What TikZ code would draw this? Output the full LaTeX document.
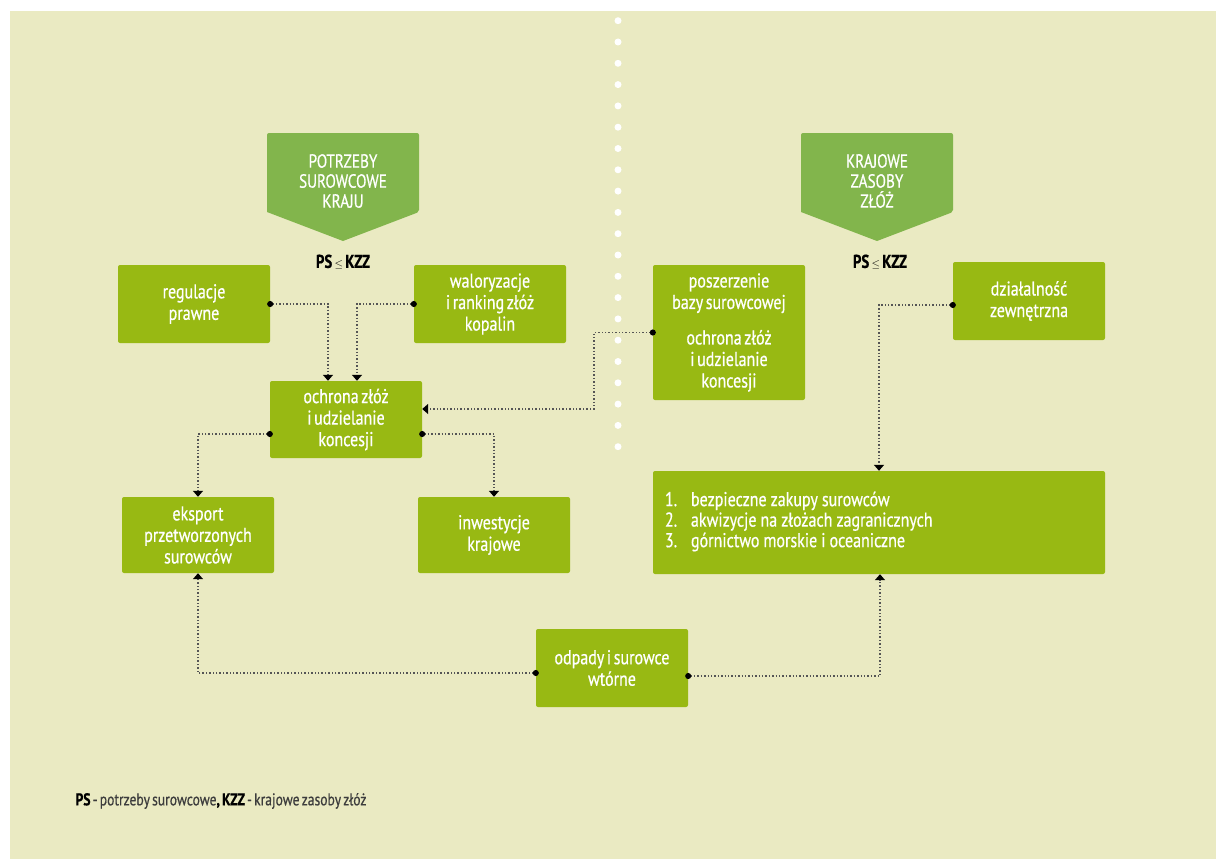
\documentclass[tikz,border=0pt]{standalone}
\usepackage{fontspec}
\setmainfont{PT Sans}[FakeStretch=0.8, FakeBold=0.6, WordSpace=0.6]
\definecolor{paperbg}{RGB}{234,234,194}
\definecolor{boxgreen}{RGB}{152,185,19}
\definecolor{headgreen}{RGB}{130,181,76}
\definecolor{linkgray}{RGB}{85,85,85}
\definecolor{legendgray}{RGB}{60,60,60}
\usetikzlibrary{arrows.meta, positioning, calc}

\begin{document}
\begin{tikzpicture}[x=1pt, y=-1pt,
    box/.style={fill=boxgreen, rounded corners=2pt, text=white, align=center,
        minimum width=152pt, minimum height=78pt, inner sep=0pt,
        font=\fontsize{20}{21.5}\selectfont},
    headtxt/.style={text=white, align=center, font=\fontsize{19}{20}\selectfont},
    ratio/.style={font=\fontsize{18.5}{18.5}\selectfont\bfseries},
    link/.style={linkgray, dotted, line width=1.4pt, shorten <=-3pt,
        {Circle[black,length=6pt]}-{Triangle[black,width=10pt,length=6pt]}}]
    \useasboundingbox (0,0) rectangle (1216,859);
    \fill[white] (0,0) rectangle (1216,859);
    \fill[paperbg] (10,11) rectangle (1216,859);

    % Divider
    \foreach \k in {0,...,20}
        \fill[white] (618,20.7+21.3*\k) circle (3.5pt);

    % Headings
    \fill[headgreen, rounded corners=2pt] (267,212) -- (267,133) -- (419,133) -- (419,212)
        [sharp corners] -- (343,241) -- cycle;
    \node[headtxt] (potrzeby) at (343,181) {POTRZEBY\\SUROWCOWE\\KRAJU};
    \node[ratio] (ratioL) at (343,262) {PS {\fontsize{11}{11}\selectfont$\leq$} KZZ};

    \fill[headgreen, rounded corners=2pt] (801,212) -- (801,133) -- (953,133) -- (953,212)
        [sharp corners] -- (877,241) -- cycle;
    \node[headtxt] (zasoby) at (877,181) {KRAJOWE\\ZASOBY\\ZŁÓŻ};
    \node[ratio] (ratioR) at (880,262) {PS {\fontsize{11}{11}\selectfont$\leq$} KZZ};

    % Left side
    \node[box] (regulacje) at (194,304) {regulacje\\prawne};
    \node[box] (waloryzacje) at (490,304) {waloryzacje\\i ranking złóż\\kopalin};
    \node[box, minimum height=77pt] (ochrona) at (346,419.5) {ochrona złóż\\i udzielanie\\koncesji};
    \node[box, minimum height=76pt] (eksport) at (198,535) {eksport\\przetworzonych\\surowców};
    \node[box, minimum height=76pt] (inwestycje) at (494,535) {inwestycje\\krajowe};

    % Right side
    \node[box, minimum height=135pt] (poszerzenie) at (729,332.5)
        {poszerzenie\\bazy surowcowej\\[14pt]ochrona złóż\\i udzielanie\\koncesji};
    \node[box] (dzialalnosc) at (1029,301) {działalność\\zewnętrzna};
    \node[box, minimum width=452pt, minimum height=103pt, text width=428pt, align=left,
        font=\fontsize{20}{20.5}\selectfont] (lista) at (879,522.5)
        {\spaceskip=4pt\relax
         \begin{tabular}{@{}p{26pt}@{}l@{}}
            1. & bezpieczne zakupy surowców\\
            2. & akwizycje na złożach zagranicznych\\
            3. & górnictwo morskie i oceaniczne
        \end{tabular}};
    \node[box] (odpady) at (612,668) {odpady i surowce\\wtórne};

    % Connectors
    \draw[link] (regulacje.east) -| ([xshift=-18pt]ochrona.north);
    \draw[link] (waloryzacje.west) -| ([xshift=11pt]ochrona.north);
    \draw[link] (poszerzenie.west) -- ++(-59,0) |- ([yshift=10.5pt]ochrona.east);
    \draw[link] ([yshift=-14.5pt]ochrona.west) -| (eksport.north);
    \draw[link] ([yshift=-14.5pt]ochrona.east) -| (inwestycje.north);
    \draw[link] ([yshift=-4pt]dzialalnosc.west) -| (lista.north);
    \draw[link] ([yshift=-5pt]odpady.west) -| (eksport.south);
    \draw[link] ([yshift=-8pt]odpady.east) -| ([xshift=1pt]lista.south);

    % Legend
    \node[anchor=west, text=legendgray, font=\fontsize{17}{17}\selectfont] (legenda) at (72,801)
        {\textcolor{black}{\textbf{PS}} - potrzeby surowcowe\textcolor{black}{\textbf{,}}
         \textcolor{black}{\textbf{KZZ}} - krajowe zasoby złóż};
\end{tikzpicture}
\end{document}
